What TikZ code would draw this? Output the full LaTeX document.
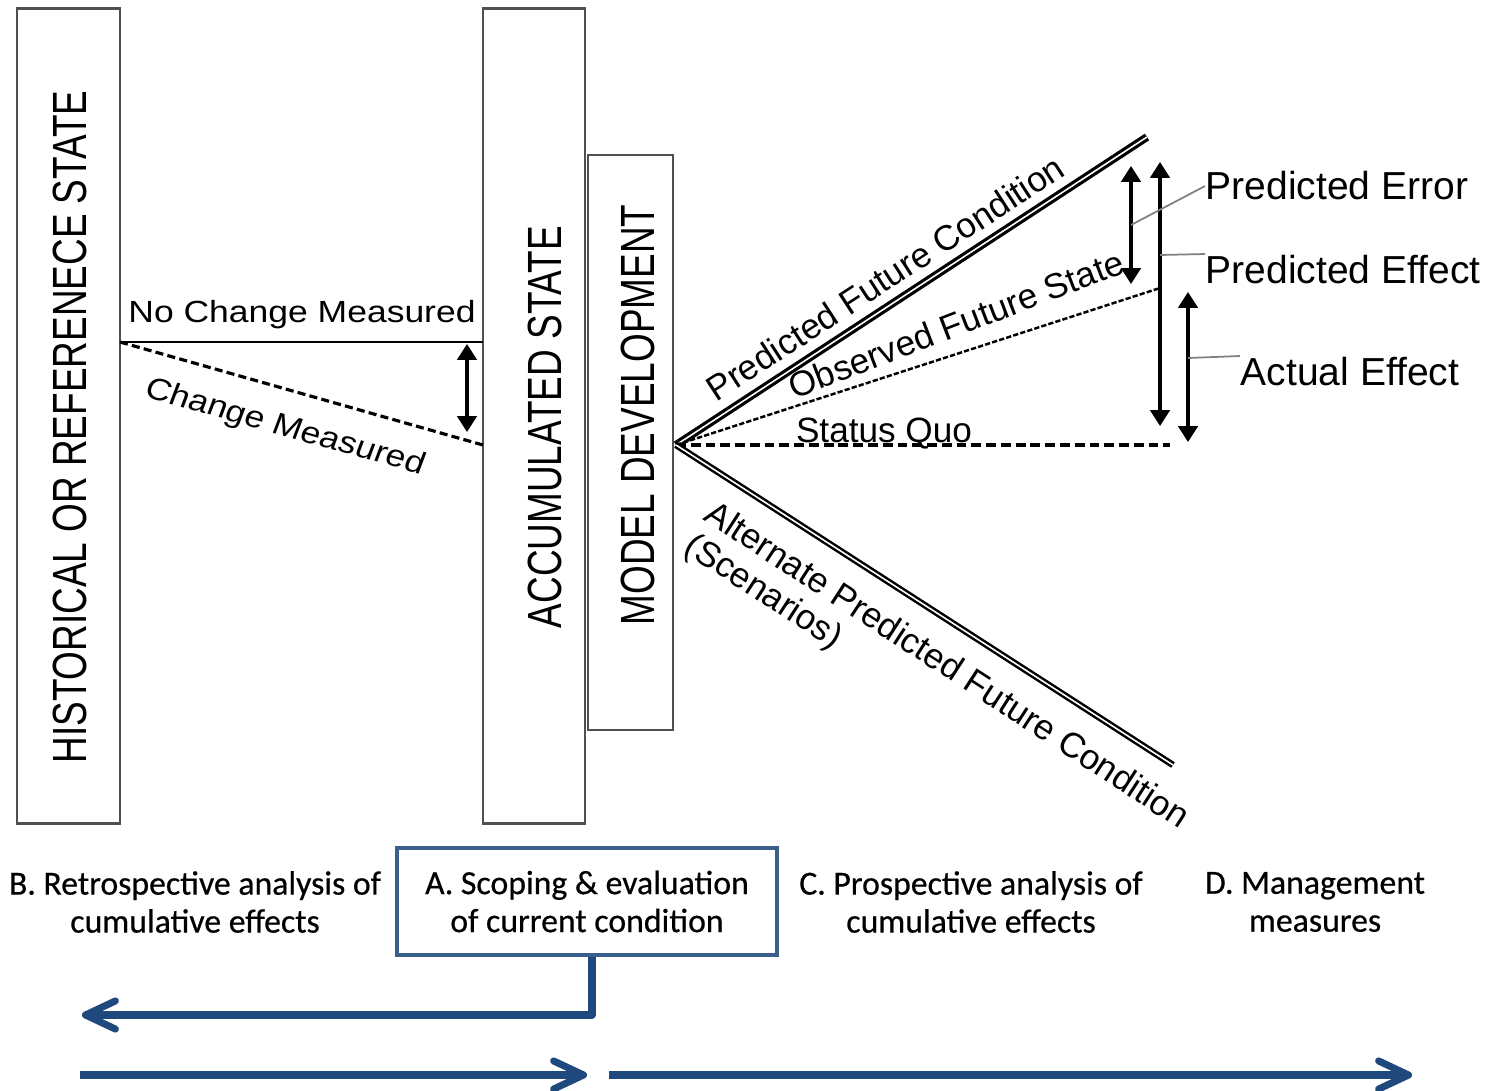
\documentclass[tikz,border=0pt]{standalone}
\usepackage{fontspec}
\setmainfont{Liberation Sans}
\newfontfamily\phasefont[FakeBold=0.5]{Carlito}
\usetikzlibrary{arrows.meta}

\definecolor{flowblue}{RGB}{31,73,125}
\definecolor{boxblue}{RGB}{58,95,140}
\definecolor{framegray}{RGB}{80,80,80}

\begin{document}
\begin{tikzpicture}[x=0.01cm,y=-0.01cm,  % one unit = one pixel, y downwards
    statebox/.style={
      draw=framegray,
      line width=0.75pt,
      inner sep=0pt
    },
    statelabel/.style={
      font=\fontsize{10.5}{12}\selectfont,
      inner sep=0pt,
      xscale=1.3,  % tall letters
      rotate=90
    },
    measure/.style={
      font=\fontsize{8.7}{10}\selectfont,
      inner sep=0pt,
      xscale=1.16
    },
    trend/.style={
      font=\fontsize{10}{11}\selectfont,
      inner sep=0pt
    },
    effect/.style={
      font=\fontsize{11.1}{12}\selectfont,
      inner sep=0pt,
      anchor=base west
    },
    span/.style={
      {Triangle[width=5.5pt,length=4.5pt]}-{Triangle[width=5.5pt,length=4.5pt]},
      line width=0.9pt
    },
    leader/.style={draw=gray, line width=0.5pt},
    forecast/.style={double, double distance=0.45pt, line width=0.9pt},
    phase/.style={
      font=\phasefont\fontsize{9.6}{10.8}\selectfont,
      align=center,
      inner sep=0pt
    },
    flow/.style={
      draw=flowblue, line width=2pt, line join=round,
      -{Straight Barb[length=8.5pt,width=8pt,round]}
    }
  ]

    \path[fill=white,use as bounding box] (0,0) rectangle (1506,1091);

    % State boxes
    \node[statebox, minimum width=1.03cm, minimum height=8.14cm] (hist) at (68.5,416) {};
    \node[statebox, minimum width=1.02cm, minimum height=8.14cm] (acc) at (534,416) {};
    \node[statebox, minimum width=0.85cm, minimum height=5.75cm] (mod) at (630.5,442.5) {};

    \node[statelabel] (histlab) at (70,427) {HISTORICAL OR REFERENECE STATE};
    \node[statelabel] (acclab) at (545,427) {ACCUMULATED STATE};
    \node[statelabel] (modlab) at (638,415) {MODEL DEVELOPMENT};

    % Retrospective change
    \coordinate (ref) at (120,342);
    \coordinate (nochg) at (483,342);
    \coordinate (chg) at (483,445);
    \draw[line width=0.7pt] (ref) -- (nochg);
    \draw[line width=0.9pt, dash pattern=on 2.3pt off 1.2pt] (ref) -- (chg);
    \node[measure, anchor=base] (nochglab) at (302,322) {No Change Measured};
    \node[measure, rotate=-18] (chglab) at (285,428) {Change Measured};

    \coordinate (chgtop) at (467,344);
    \coordinate (chgbot) at (467,432);
    \draw[span] (chgtop) -- (chgbot);

    % Prospective fan
    \coordinate (fan) at (676,445);
    \coordinate (pfc) at (1147,137);
    \coordinate (ofs) at (1160,288);
    \coordinate (sq) at (1170,445);
    \coordinate (apc) at (1173,765);

    \draw[forecast] (fan) -- (pfc);
    \draw[line width=0.7pt, dash pattern=on 1.5pt off 0.6pt] (fan) -- (ofs);
    \draw[line width=0.95pt, dash pattern=on 2.8pt off 1.4pt] (fan) -- (sq);
    \draw[forecast, line width=0.7pt] (fan) -- (apc);

    \node[trend, rotate=33] (pfclab) at (885,278) {Predicted Future Condition};
    \node[trend, rotate=21] (ofslab) at (956,324) {Observed Future State};
    \node[trend, anchor=base] (sqlab) at (884,442) {Status Quo};
    \node[trend, rotate=-33] (apclab) at (948,664) {Alternate Predicted Future Condition};
    \node[trend, rotate=-33] (scenlab) at (763,593) {(Scenarios)};

    % Error and effect spans
    \foreach \n/\x/\ya/\yb in {err/1131/166/284, peff/1160/162/426, act/1188/292/442} {
      \coordinate (\n top) at (\x,\ya);
      \coordinate (\n bot) at (\x,\yb);
      \draw[span] (\n top) -- (\n bot);
    }

    \node[effect] (errlab) at (1205,200) {Predicted Error};
    \node[effect] (pefflab) at (1205,283) {Predicted Effect};
    \node[effect] (actlab) at (1240,385) {Actual Effect};

    \coordinate (errtap) at (1131,225);
    \coordinate (pefftap) at (1160,255);
    \coordinate (acttap) at (1188,358);
    \draw[leader] (errtap) -- (errlab.west);
    \draw[leader] (pefftap) -- (pefflab.north west);
    \draw[leader] (acttap) -- (actlab.north west);

    % Phases
    \node[phase, draw=boxblue, line width=1.1pt, minimum width=3.8cm, minimum height=1.07cm]
      (scoping) at (587,901.5) {A. Scoping \& evaluation\\of current condition};
    \foreach \n/\x/\t in {retro/195/{B. Retrospective analysis of\\cumulative effects},
                          pros/971/{C. Prospective analysis of\\cumulative effects},
                          mgmt/1315/{D. Management\\measures}} {
      \node[phase] (\n) at (\x,902) {\t};
    }

    % Direction of analysis
    \coordinate (back) at (82,1015);
    \coordinate (retroA) at (80,1075);
    \coordinate (retroB) at (587,1075);
    \coordinate (prosA) at (609,1075);
    \coordinate (prosB) at (1412,1075);
    \draw[flow] ([xshift=0.05cm]scoping.south) |- (back);
    \draw[flow] (retroA) -- (retroB);
    \draw[flow] (prosA) -- (prosB);

  \end{tikzpicture}
\end{document}
